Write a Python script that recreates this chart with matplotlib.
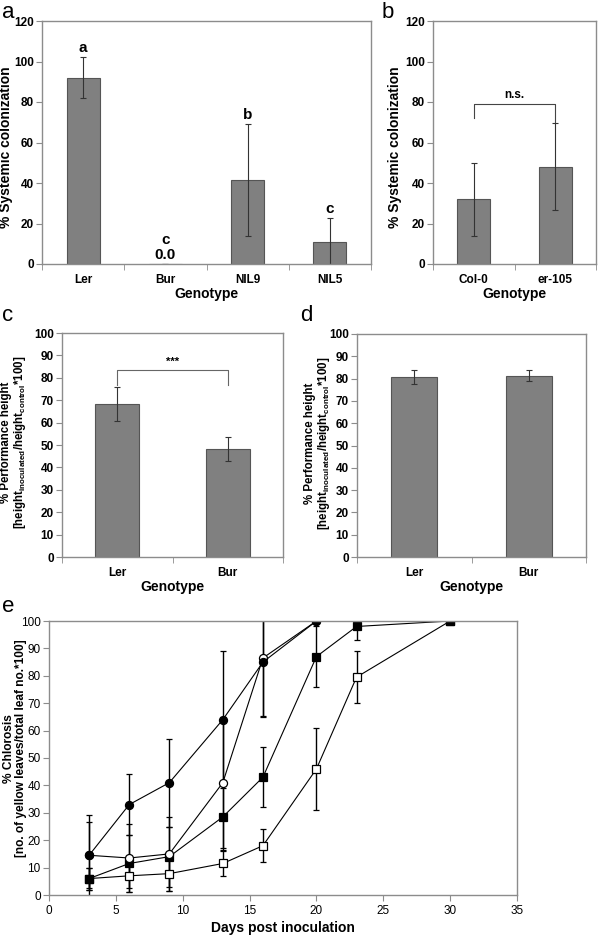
import matplotlib.pyplot as plt
import numpy as np

plt.rcParams["font.family"] = ["Liberation Sans", "DejaVu Sans"]

# ---------------- data ----------------
a_geno = ["Ler", "Bur", "NIL9", "NIL5"]
a_vals = [92.0, 0.0, 41.5, 11.0]
a_err = [10.0, 0.0, 27.5, 11.5]
a_letters = ["a", "c", "b", "c"]

b_geno = ["Col-0", "er-105"]
b_vals = [32.0, 48.0]
b_err = [18.0, 21.5]

c_geno = ["Ler", "Bur"]
c_vals = [68.3, 48.3]
c_err = [7.7, 5.3]

d_geno = ["Ler", "Bur"]
d_vals = [80.8, 81.3]
d_err = [3.2, 2.4]

e_days_circ = [3, 6, 9, 13, 16, 20]
e_fc = [14.5, 33.0, 41.0, 64.0, 85.0, 100.0]
e_fc_err = [14.7, 11.0, 16.0, 25.0, 20.0, 0.0]
e_oc = [14.5, 13.5, 15.0, 41.0, 86.5, 100.0]
e_oc_err = [12.0, 12.5, 13.5, 24.0, 21.0, 0.0]

e_days_sq = [3, 6, 9, 13, 16, 20, 23, 30]
e_fs = [6.0, 11.5, 14.0, 28.5, 43.0, 87.0, 98.0, 100.0]
e_fs_err = [4.0, 10.5, 11.0, 12.0, 11.0, 11.0, 5.0, 0.0]
e_os = [6.0, 7.0, 7.8, 11.5, 18.0, 46.0, 79.5, 100.0]
e_os_err = [4.0, 4.5, 6.5, 4.5, 6.0, 15.0, 9.5, 0.0]

W, H = 600, 935
fig = plt.figure(figsize=(W / 100, H / 100), dpi=100)

SPINE = "#8c8c8c"
BAR = "#808080"


def px_axes(l, t, r, b):
    return fig.add_axes([l / W, 1 - b / H, (r - l) / W, (b - t) / H])


def style(ax, bold_ticks=True):
    for s in ax.spines.values():
        s.set_color(SPINE)
        s.set_linewidth(1.0)
    ax.tick_params(direction="out", color=SPINE, length=4, labelsize=8.5, pad=2)
    if bold_ticks:
        for lab in ax.get_xticklabels() + ax.get_yticklabels():
            lab.set_fontweight("bold")


def bar_panel(ax, names, vals, errs, ymax, ystep):
    x = np.arange(len(names))
    ax.bar(x, vals, width=0.4, color=BAR, edgecolor="#555555", linewidth=0.8)
    ax.errorbar(x, vals, yerr=errs, fmt="none", ecolor="#333333",
                elinewidth=0.8, capsize=2, capthick=0.8)
    ax.set_xlim(-0.5, len(names) - 0.5)
    ax.set_ylim(0, ymax)
    ax.set_yticks(np.arange(0, ymax + 1, ystep))
    ax.set_xticks(x)
    ax.set_xticklabels(names)
    ax.set_xticks(np.arange(-0.5, len(names), 1.0), minor=True)
    style(ax)
    ax.tick_params(axis="x", which="major", length=0, pad=7)
    ax.tick_params(axis="x", which="minor", length=4, color=SPINE)
    ax.set_xlabel("Genotype", fontsize=10, fontweight="bold", labelpad=1)


# ---------------- panel a ----------------
ax = px_axes(42, 21, 371, 264)
bar_panel(ax, a_geno, a_vals, a_err, 120, 20)
ax.set_ylabel("% Systemic colonization", fontsize=10, fontweight="bold")
ax.yaxis.set_label_coords(-0.088, 0.48)
for i, (v, e, lt) in enumerate(zip(a_vals, a_err, a_letters)):
    if v == 0:
        ax.text(i, 0.8, "0.0", ha="center", va="bottom", fontsize=11, fontweight="bold")
        ax.text(i, 8.5, lt, ha="center", va="bottom", fontsize=11, fontweight="bold")
    else:
        ax.text(i, v + e + 1, lt, ha="center", va="bottom", fontsize=11, fontweight="bold")
fig.text(2 / W, 1 - 13 / H, "a", fontsize=16, va="center")

# ---------------- panel b ----------------
ax = px_axes(433, 21, 596, 264)
bar_panel(ax, b_geno, b_vals, b_err, 120, 20)
ax.set_ylabel("% Systemic colonization", fontsize=10, fontweight="bold")
ax.yaxis.set_label_coords(-0.19, 0.48)
ax.plot([0, 0, 1, 1], [72, 79, 79, 70], color="#444444", lw=0.8)
ax.text(0.5, 80.5, "n.s.", ha="center", va="bottom", fontsize=8.5, fontweight="bold")
fig.text(382 / W, 1 - 13 / H, "b", fontsize=16, va="center")

# ---------------- panel c ----------------
ylab_c = ("% Performance height\n"
          r"[height$_{\mathregular{inoculated}}$/height$_{\mathregular{control}}$*100]")
ax = px_axes(62, 333, 283, 557)
bar_panel(ax, c_geno, c_vals, c_err, 100, 10)
ax.set_ylabel(ylab_c, fontsize=8.3, fontweight="bold", linespacing=1.0)
ax.yaxis.set_label_coords(-0.155, 0.51)
ax.plot([0, 0, 1, 1], [77, 83.5, 83.5, 77], color="#666666", lw=0.8)
ax.text(0.5, 85, "***", ha="center", va="bottom", fontsize=8, fontweight="bold")
fig.text(2 / W, 1 - 316 / H, "c", fontsize=16, va="center")

# ---------------- panel d ----------------
ax = px_axes(357, 334, 586, 557)
bar_panel(ax, d_geno, d_vals, d_err, 100, 10)
ax.set_ylabel(ylab_c, fontsize=8.3, fontweight="bold", linespacing=1.0)
ax.yaxis.set_label_coords(-0.11, 0.51)
fig.text(300 / W, 1 - 316 / H, "d", fontsize=16, va="center")

# ---------------- panel e ----------------
ax = px_axes(49, 621, 517, 895)
kw = dict(color="black", lw=0.8, elinewidth=1.0, capsize=2, capthick=0.8, ms=5.8,
          markeredgecolor="black", markeredgewidth=0.9)
ax.errorbar(e_days_sq, e_os, yerr=e_os_err, fmt="-s", mfc="white", **kw)
ax.errorbar(e_days_sq, e_fs, yerr=e_fs_err, fmt="-s", mfc="black", **kw)
ax.errorbar(e_days_circ, e_oc, yerr=e_oc_err, fmt="-o", mfc="white", **kw)
ax.errorbar(e_days_circ, e_fc, yerr=e_fc_err, fmt="-o", mfc="black", **kw)
ax.set_xlim(0, 35)
ax.set_ylim(0, 100)
ax.set_xticks(np.arange(0, 36, 5))
ax.set_yticks(np.arange(0, 101, 10))
style(ax, bold_ticks=False)
ax.tick_params(axis="x", pad=3)
ax.set_xlabel("Days post inoculation", fontsize=10, fontweight="bold", labelpad=3)
ax.set_ylabel("% Chlorosis\n[no. of yellow leaves/total leaf no.*100]",
              fontsize=8.6, fontweight="bold", linespacing=0.95)
ax.yaxis.set_label_coords(-0.047, 0.535)
fig.text(2 / W, 1 - 607 / H, "e", fontsize=16, va="center")

fig.savefig("out.png", dpi=100)
